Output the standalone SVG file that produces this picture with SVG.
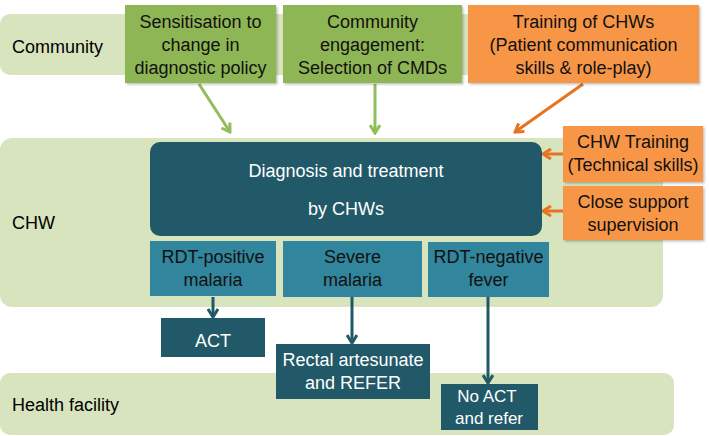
<svg xmlns="http://www.w3.org/2000/svg" width="709" height="436" viewBox="0 0 709 436">
<defs>
<style>
text{font-family:"Liberation Sans",Arial,sans-serif;font-size:18px;text-anchor:middle}
.band{fill:#D7E4BD}
.lbl{fill:#000;text-anchor:start}
.green{fill:#8FB654}
.orange{fill:#F79646}
.dark{fill:#215968}
.mid{fill:#31859C}
.wt{fill:#fff}
.bk{fill:#111}
.ga{stroke:#92BD5B;stroke-width:3;fill:none}
.oa{stroke:#E8731E;stroke-width:3;fill:none}
.da{stroke:#215968;stroke-width:3;fill:none}
</style>
<filter id="sh" x="-5%" y="-5%" width="115%" height="120%">
<feDropShadow dx="1.5" dy="1.5" stdDeviation="1.2" flood-color="#000" flood-opacity="0.25"/>
</filter>
<marker id="mg" viewBox="0 0 12 12" refX="10" refY="6" markerWidth="12" markerHeight="12" markerUnits="userSpaceOnUse" orient="auto"><path d="M2,1 L10,6 L2,11" fill="none" stroke="#92BD5B" stroke-width="3"/></marker>
<marker id="mo" viewBox="0 0 12 12" refX="10" refY="6" markerWidth="12" markerHeight="12" markerUnits="userSpaceOnUse" orient="auto"><path d="M2,1 L10,6 L2,11" fill="none" stroke="#E8731E" stroke-width="3"/></marker>
<marker id="md" viewBox="0 0 12 12" refX="10" refY="6" markerWidth="12" markerHeight="12" markerUnits="userSpaceOnUse" orient="auto"><path d="M2,1 L10,6 L2,11" fill="none" stroke="#215968" stroke-width="3"/></marker>
</defs>
<rect width="709" height="436" fill="#fff"/>
<g id="band-community"><rect class="band" x="0" y="14" width="695" height="61" rx="10"/><text class="lbl" x="12" y="53">Community</text></g>
<g id="band-chw"><rect class="band" x="0" y="138" width="663" height="169" rx="12"/><text class="lbl" x="12" y="229">CHW</text></g>
<g id="band-health"><rect class="band" x="0" y="373" width="674" height="62" rx="10"/><text class="lbl" x="12" y="411">Health facility</text></g>

<g id="connectors">
<line class="ga" x1="199" y1="84" x2="230" y2="132" marker-end="url(#mg)"/>
<line class="ga" x1="375" y1="84" x2="375" y2="133" marker-end="url(#mg)"/>
<line class="oa" x1="583" y1="84" x2="515" y2="132" marker-end="url(#mo)"/>
<line class="oa" x1="563" y1="154" x2="543" y2="154" marker-end="url(#mo)"/>
<line class="oa" x1="563" y1="211" x2="543" y2="211" marker-end="url(#mo)"/>
<line class="da" x1="213" y1="297" x2="213" y2="317" marker-end="url(#md)"/>
<line class="da" x1="352" y1="297" x2="352" y2="343" marker-end="url(#md)"/>
<line class="da" x1="488" y1="297" x2="488" y2="383" marker-end="url(#md)"/>
</g>

<g id="sensitisation"><rect class="green" filter="url(#sh)" x="125" y="5" width="151" height="78"/><text class="bk"><tspan x="200.5" y="28">Sensitisation to</tspan><tspan x="200.5" y="51">change in</tspan><tspan x="200.5" y="74">diagnostic policy</tspan></text></g>
<g id="engagement"><rect class="green" filter="url(#sh)" x="283" y="5" width="179" height="78"/><text class="bk"><tspan x="372.5" y="28">Community</tspan><tspan x="372.5" y="51">engagement:</tspan><tspan x="372.5" y="74">Selection of CMDs</tspan></text></g>
<g id="training-comm"><rect class="orange" filter="url(#sh)" x="468" y="5" width="231" height="78"/><text class="bk"><tspan x="583.5" y="28">Training of CHWs</tspan><tspan x="583.5" y="51">(Patient communication</tspan><tspan x="583.5" y="74">skills &amp; role-play)</tspan></text></g>

<g id="diagnosis"><rect class="dark" x="150" y="142" width="392" height="94" rx="10"/><text class="wt"><tspan x="346" y="177">Diagnosis and treatment</tspan><tspan x="346" y="215">by CHWs</tspan></text></g>
<g id="training-tech"><rect class="orange" filter="url(#sh)" x="563" y="126" width="140" height="56"/><text class="bk"><tspan x="633" y="148">CHW Training</tspan><tspan x="633" y="171">(Technical skills)</tspan></text></g>
<g id="supervision"><rect class="orange" filter="url(#sh)" x="563" y="186" width="140" height="54"/><text class="bk"><tspan x="633" y="208">Close support</tspan><tspan x="633" y="231">supervision</tspan></text></g>

<g id="rdt-positive"><rect class="mid" x="150" y="241" width="126" height="55"/><text class="bk"><tspan x="213" y="263">RDT-positive</tspan><tspan x="213" y="286">malaria</tspan></text></g>
<g id="severe"><rect class="mid" x="283" y="241" width="139" height="56"/><text class="bk"><tspan x="352.5" y="263">Severe</tspan><tspan x="352.5" y="286">malaria</tspan></text></g>
<g id="rdt-negative"><rect class="mid" x="428" y="242" width="121" height="55"/><text class="bk"><tspan x="488.5" y="263">RDT-negative</tspan><tspan x="488.5" y="286">fever</tspan></text></g>

<g id="act"><rect class="dark" x="161" y="318" width="104" height="39"/><text class="wt" x="213" y="347">ACT</text></g>
<g id="rectal"><rect class="dark" x="276" y="344" width="154" height="55"/><text class="wt"><tspan x="353" y="366">Rectal artesunate</tspan><tspan x="353" y="389">and REFER</tspan></text></g>
<g id="no-act"><rect class="dark" x="441" y="384" width="97" height="46"/><text class="wt" style="font-size:17px"><tspan x="487" y="402">No ACT</tspan><tspan x="489" y="424">and refer</tspan></text></g>
</svg>
